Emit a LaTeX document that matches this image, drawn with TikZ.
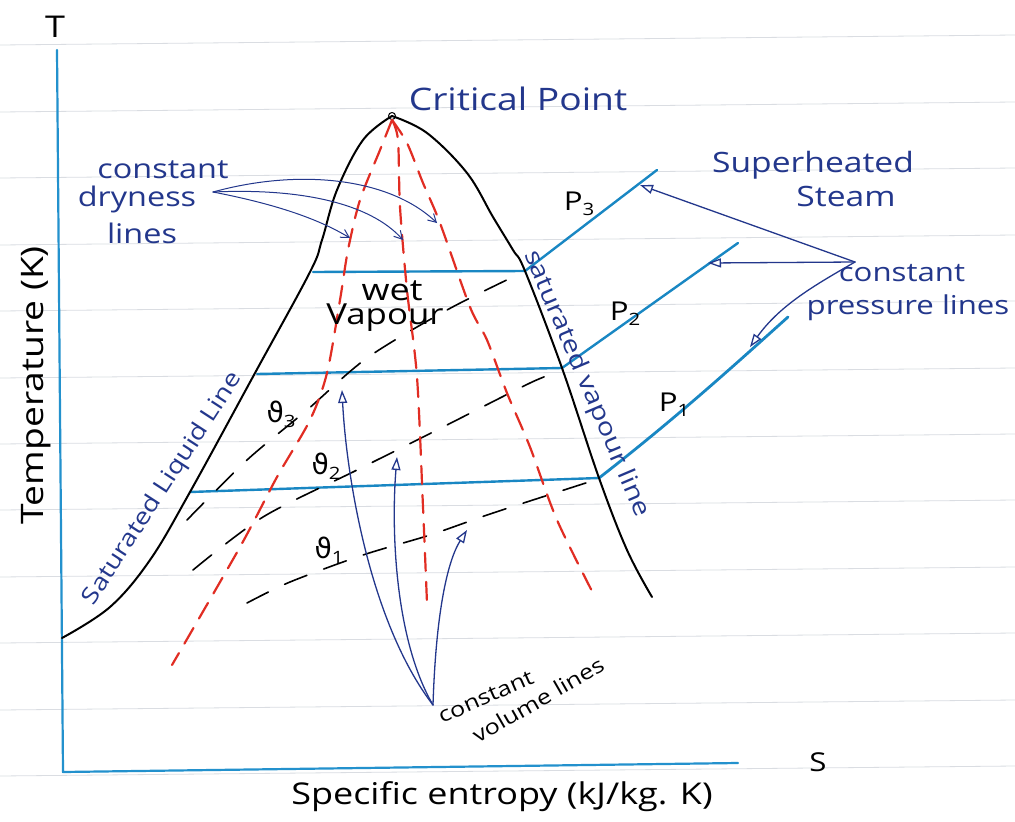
\documentclass[tikz,border=0pt]{standalone}
\usepackage{fontspec}
\setmainfont[FakeStretch=1.2]{Open Sans}
\newfontfamily\dvfont{DejaVu Sans}
\usetikzlibrary{arrows.meta}
\definecolor{ink}{RGB}{35,55,140}
\definecolor{presblue}{RGB}{25,135,195}
\definecolor{axisblue}{RGB}{35,145,205}
\definecolor{redd}{RGB}{225,45,35}
\definecolor{ruling}{RGB}{218,221,226}
\newcommand{\sbs}[1]{\raisebox{-5pt}{\fontsize{17}{18}\selectfont #1}}
\newcommand{\vth}[1]{{\dvfont\fontsize{28}{30}\selectfont ϑ}\sbs{#1}}
\begin{document}
\begin{tikzpicture}[x=1pt,y=-1pt, line cap=round, line join=round,
  dome/.style={black, line width=2pt},
  presline/.style={presblue, line width=2.4pt},
  dryline/.style={redd, line width=2.2pt, dash pattern=on 18pt off 11pt},
  volline/.style={black, line width=1.6pt, dash pattern=on 24pt off 18pt},
  openarrow/.style={ink, line width=1.3pt, -{Triangle[open,length=13pt,width=9pt]}},
  barbarrow/.style={ink, line width=1pt, -{Straight Barb[length=8pt,width=9pt]}},
  bluetext/.style={ink, inner sep=0pt, font=\fontsize{27}{30}\selectfont},
  blacktext/.style={black, inner sep=0pt, font=\fontsize{26}{30}\selectfont},
]
\useasboundingbox (0,0) rectangle (1015,822);
\fill[white] (0,0) rectangle (1015,822);
% ruled paper
\foreach \yy in {43,110,176,243,309,376,442,508,575,641,708,774}
  \draw[ruling, line width=0.8pt] (0,\yy+2) -- (1015,\yy-8);

% axes
\coordinate (O) at (63,772);
\coordinate (Ytop) at (57,50);
\coordinate (Xend) at (738,763);
\draw[axisblue, line width=2.2pt] (Ytop) -- (O) -- (Xend);
\node[blacktext, font=\fontsize{30}{32}\selectfont] (T) at (55,27) {T};
\node[blacktext] (S) at (818,762) {S};
\node[blacktext, rotate=90, font=\fontsize{31}{34}\selectfont] (tlab) at (36,385) {Temperature (K)};
\node[blacktext, font=\fontsize{30}{34}\selectfont] (slab) at (502,797) {Specific entropy (kJ/kg. K)};

% pressure lines
\coordinate (L3) at (313,272); \coordinate (R3) at (525,271);
\coordinate (L2) at (257,374); \coordinate (R2) at (562,368);
\coordinate (L1) at (190,492); \coordinate (R1) at (599,478);
\coordinate (E3) at (657,170);
\coordinate (E2) at (738,243);
\coordinate (E1) at (788,317);
\draw[presline] (L3) -- (R3) -- (E3);
\draw[presline] (L2) -- (R2) -- (E2);
\draw[presline] (L1) -- (R1);
\draw[presline, line width=2.8pt] (R1) .. controls (680,415) and (740,360) .. (E1);

% constant volume lines
\draw[volline] plot[smooth] coordinates {(187,520) (247,460) (307,410) (367,358) (447,310) (515,276)};
\draw[volline] plot[smooth] coordinates {(193,570) (263,517) (357,470) (443,427) (530,383) (558,372)};
\draw[volline] plot[smooth] coordinates {(247,603) (290,582) (363,555) (430,535) (493,513) (592,481)};
\node[blacktext] (v3) at (281,414) {\vth{3}};
\node[blacktext] (v2) at (326,466) {\vth{2}};
\node[blacktext] (v1) at (329,550) {\vth{1}};

% saturation dome
\node[draw=black, circle, inner sep=0pt, minimum size=7pt, line width=1pt] (cp) at (392,116) {};
\draw[dome] plot[smooth, tension=0.6] coordinates {(62,638) (110,607) (150,560) (190,492) (255,373) (310,272) (322,240) (337,190) (363,140) (392,116)};
\draw[dome] plot[smooth, tension=0.6] coordinates {(392,116) (427,133) (467,173) (493,217) (513,250) (525,271) (562,368) (599,478) (627,550) (652,597)};

% constant dryness lines
\draw[dryline] plot[smooth] coordinates {(cp.south) (380,150) (360,200) (348,250) (340,300) (327,373) (310,420) (277,477) (240,547) (172,665)};
\draw[dryline] plot[smooth] coordinates {(cp.south) (398,140) (400,207) (407,290) (417,377) (423,507) (427,603)};
\draw[dryline] plot[smooth] coordinates {(cp.south) (407,143) (423,183) (440,223) (470,307) (487,340) (507,393) (530,447) (557,520) (595,597)};

% labels
\node[bluetext, font=\fontsize{31}{34}\selectfont] (crit) at (518,99) {Critical Point};
\node[bluetext] (cd1) at (163,170) {constant};
\node[bluetext] (cd2) at (137,199) {dryness};
\node[bluetext] (cd3) at (142,233) {lines};
\coordinate (cdo) at (213,192);
\coordinate (dA) at (350,238);
\coordinate (dB) at (403,240);
\coordinate (dC) at (437,223);
\draw[barbarrow] (cdo) .. controls (280,205) and (320,220) .. (dA);
\draw[barbarrow] (cdo) .. controls (300,188) and (370,203) .. (dB);
\draw[barbarrow] (cdo) .. controls (300,168) and (390,178) .. (dC);

\node[blacktext, font=\fontsize{30}{32}\selectfont] (wet) at (392,291) {wet};
\node[blacktext, font=\fontsize{29}{32}\selectfont] (vap) at (385,318) {Vapour};

\node[bluetext, rotate=57, font=\fontsize{23}{26}\selectfont] (sll) at (163,489) {Saturated Liquid Line};
\node[bluetext, rotate=-67, font=\fontsize{24}{26}\selectfont] (svl) at (586,384) {saturated vapour line};

\node[blacktext] (p3) at (579,204) {P\sbs{3}};
\node[blacktext] (p2) at (625,314) {P\sbs{2}};
\node[blacktext] (p1) at (674,405) {P\sbs{1}};

\node[bluetext, font=\fontsize{28}{30}\selectfont] (sh1) at (813,165) {Superheated};
\node[bluetext, font=\fontsize{28}{30}\selectfont] (sh2) at (846,196) {Steam};
\node[bluetext, font=\fontsize{26}{30}\selectfont] (cpl1) at (902,273) {constant};
\node[bluetext, font=\fontsize{26}{30}\selectfont] (cpl2) at (908,308) {pressure lines};
\coordinate (cpo) at (855,262);
\coordinate (tP3) at (640,185);
\coordinate (tP2) at (708,263);
\coordinate (tP1) at (750,347);
\draw[openarrow] (cpo) -- (tP3);
\draw[openarrow] (cpo) -- (tP2);
\draw[openarrow] (cpo) .. controls (815,285) and (780,305) .. (tP1);

% constant volume label and arrows
\node[blacktext, rotate=24, font=\fontsize{21}{24}\selectfont] (cv1) at (486,697) {constant};
\node[blacktext, rotate=30, font=\fontsize{21}{24}\selectfont] (cv2) at (538,700) {volume lines};
\coordinate (cvo) at (433,705);
\coordinate (tv3) at (342,390);
\coordinate (tv2) at (397,457);
\coordinate (tv1) at (467,530);
\draw[openarrow] (cvo) .. controls (368,620) and (346,470) .. (tv3);
\draw[openarrow] (cvo) .. controls (395,640) and (391,530) .. (tv2);
\draw[openarrow] (cvo) .. controls (436,610) and (448,560) .. (tv1);
\end{tikzpicture}
\end{document}
